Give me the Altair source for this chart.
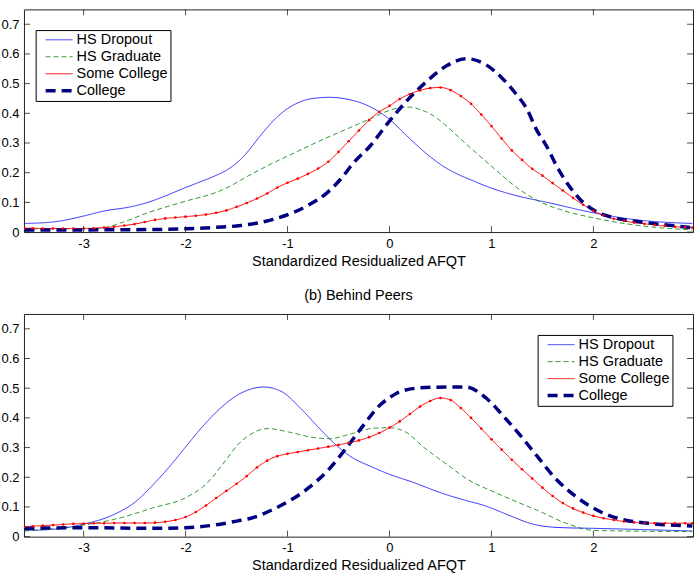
import altair as alt
import pandas as pd

# ---- series definitions -------------------------------------------------
SERIES = ["HS Dropout", "HS Graduate", "Some College", "College"]
COLORS = ["#0000ff", "#008000", "#ff0000", "#000080"]
DASHES = [[1, 0], [5, 3], [1, 0], [10, 6]]
WIDTHS = [0.8, 0.8, 1.0, 3.5]

X_TICKS = [-3, -2, -1, 0, 1, 2]
Y_TICKS = [0, 0.1, 0.2, 0.3, 0.4, 0.5, 0.6, 0.7]
X_DOMAIN = [-3.585, 2.977]
Y_DOMAIN = [0, 0.75]
X_TITLE = "Standardized Residualized AFQT"

# fine grid used for the marked "Some College" densities
grid_x = [-3.58, -3.5, -3.4, -3.3, -3.2, -3.1, -3.0, -2.9, -2.8, -2.7, -2.6,
          -2.5, -2.4, -2.3, -2.2, -2.1, -2.0, -1.9, -1.8, -1.7, -1.6, -1.5,
          -1.4, -1.3, -1.2, -1.1, -1.0, -0.9, -0.8, -0.7, -0.6, -0.5, -0.4,
          -0.3, -0.2, -0.1, 0.0, 0.1, 0.2, 0.3, 0.4, 0.5, 0.6, 0.7, 0.8,
          0.9, 1.0, 1.1, 1.2, 1.3, 1.4, 1.5, 1.6, 1.7, 1.8, 1.9, 2.0, 2.1,
          2.2, 2.3, 2.4, 2.5, 2.6, 2.7, 2.8, 2.9, 2.97]

# ---- upper panel --------------------------------------------------------
a_dropout_x = [-3.58, -3.3, -3.0, -2.8, -2.54, -2.37, -2.21, -2.05, -1.88,
               -1.72, -1.59, -1.46, -1.38, -1.30, -1.2, -1.1, -1.0, -0.9,
               -0.8, -0.7, -0.6, -0.42, -0.22, 0.0, 0.17, 0.37, 0.5, 0.6,
               0.7, 0.79, 1.0, 1.23, 1.56, 2.0, 2.38, 2.97]
a_dropout_y = [0.029, 0.034, 0.054, 0.071, 0.085, 0.100, 0.120, 0.143, 0.166,
               0.188, 0.210, 0.245, 0.275, 0.31, 0.352, 0.388, 0.416, 0.435,
               0.447, 0.452, 0.454, 0.448, 0.427, 0.38, 0.324, 0.262, 0.228,
               0.207, 0.19, 0.177, 0.148, 0.124, 0.099, 0.065, 0.043, 0.029]

a_grad_x = [-3.58, -3.0, -2.8, -2.6, -2.37, -2.0, -1.69, -1.55, -1.46, -1.3,
            -1.14, -1.0, -0.81, -0.6, -0.48, -0.3, -0.16, -0.1, 0.0, 0.1,
            0.2, 0.3, 0.43, 0.53, 0.63, 0.79, 1.0, 1.23, 1.43, 1.72, 2.0,
            2.38, 2.97]
a_grad_y = [0.011, 0.011, 0.015, 0.035, 0.065, 0.104, 0.135, 0.157, 0.175,
            0.205, 0.233, 0.256, 0.287, 0.32, 0.338, 0.365, 0.386, 0.396,
            0.410, 0.419, 0.421, 0.413, 0.392, 0.366, 0.335, 0.285, 0.222,
            0.155, 0.11, 0.071, 0.048, 0.025, 0.007]

a_some_y = [0.013, 0.013, 0.012, 0.012, 0.012, 0.012, 0.012, 0.013, 0.015,
            0.018, 0.022, 0.027, 0.034, 0.041, 0.046, 0.049, 0.052, 0.055,
            0.059, 0.065, 0.073, 0.085, 0.098, 0.113, 0.130, 0.150, 0.166,
            0.180, 0.196, 0.214, 0.237, 0.270, 0.306, 0.342, 0.377, 0.405,
            0.425, 0.448, 0.465, 0.477, 0.485, 0.487, 0.478, 0.458, 0.432,
            0.396, 0.357, 0.315, 0.275, 0.243, 0.213, 0.190, 0.165, 0.140,
            0.115, 0.092, 0.072, 0.056, 0.045, 0.038, 0.032, 0.028, 0.024,
            0.021, 0.018, 0.016, 0.015]

a_college_x = [-3.58, -2.5, -2.0, -1.7, -1.46, -1.14, -0.81, -0.61, -0.48,
               -0.35, -0.19, 0.0, 0.17, 0.37, 0.56, 0.75, 0.94, 1.10, 1.23,
               1.35, 1.44, 1.54, 1.64, 1.75, 1.87, 2.05, 2.21, 2.54, 2.97]
a_college_y = [0.007, 0.008, 0.011, 0.016, 0.022, 0.043, 0.088, 0.133, 0.178,
               0.234, 0.29, 0.374, 0.442, 0.509, 0.56, 0.584, 0.565, 0.52,
               0.47, 0.413, 0.346, 0.29, 0.222, 0.161, 0.11, 0.065, 0.048,
               0.031, 0.015]

# ---- lower panel: (b) Behind Peers ---------------------------------------
b_dropout_x = [-3.58, -3.29, -3.0, -2.70, -2.50, -2.31, -2.14, -2.0, -1.82,
               -1.66, -1.50, -1.36, -1.235, -1.1, -1.04, -0.88, -0.71, -0.55,
               -0.39, -0.16, 0.0, 0.24, 0.50, 0.79, 0.9, 1.0, 1.1, 1.23, 1.35,
               1.46, 1.6, 1.72, 2.0, 2.97]
b_dropout_y = [0.021, 0.025, 0.042, 0.075, 0.115, 0.178, 0.243, 0.302, 0.376,
               0.432, 0.475, 0.497, 0.504, 0.495, 0.485, 0.435, 0.373, 0.317,
               0.272, 0.233, 0.21, 0.182, 0.148, 0.118, 0.108, 0.096, 0.082,
               0.064, 0.048, 0.038, 0.032, 0.03, 0.028, 0.019]

b_grad_x = [-3.58, -3.0, -2.70, -2.31, -2.0, -1.79, -1.6, -1.5, -1.36, -1.2,
            -0.97, -0.75, -0.58, -0.39, -0.16, 0.0, 0.14, 0.34, 0.56, 0.79,
            1.0, 1.23, 1.46, 1.72, 2.0, 2.97]
b_grad_y = [0.019, 0.039, 0.058, 0.098, 0.131, 0.18, 0.26, 0.305, 0.345,
            0.364, 0.351, 0.334, 0.33, 0.345, 0.365, 0.367, 0.356, 0.3,
            0.244, 0.188, 0.154, 0.12, 0.087, 0.047, 0.021, 0.017]

b_some_y = [0.033, 0.035, 0.037, 0.039, 0.041, 0.043, 0.044, 0.045, 0.045,
            0.046, 0.046, 0.046, 0.046, 0.047, 0.050, 0.056, 0.066, 0.083,
            0.105, 0.130, 0.154, 0.178, 0.204, 0.233, 0.256, 0.271, 0.279,
            0.285, 0.291, 0.297, 0.303, 0.309, 0.316, 0.324, 0.335, 0.349,
            0.367, 0.388, 0.413, 0.438, 0.457, 0.467, 0.460, 0.433, 0.400,
            0.364, 0.328, 0.293, 0.259, 0.227, 0.196, 0.165, 0.137, 0.113,
            0.095, 0.081, 0.070, 0.062, 0.056, 0.051, 0.048, 0.046, 0.045,
            0.045, 0.045, 0.045, 0.045]

b_college_x = [-3.58, -3.0, -2.3, -2.0, -1.66, -1.46, -1.36, -1.14, -0.81,
               -0.61, -0.42, -0.26, -0.09, 0.0, 0.07, 0.15, 0.30, 0.56, 0.75,
               0.94, 1.13, 1.30, 1.46, 1.62, 1.82, 2.05, 2.28, 2.54, 2.97]
b_college_y = [0.028, 0.03, 0.028, 0.03, 0.042, 0.055, 0.062, 0.092, 0.16,
               0.221, 0.3, 0.373, 0.444, 0.468, 0.483, 0.493, 0.501, 0.504,
               0.504, 0.469, 0.401, 0.334, 0.266, 0.199, 0.137, 0.087, 0.058,
               0.045, 0.036]

FONT = "Liberation Sans, Arial, Helvetica, sans-serif"
W, H = 670, 223
TICK = 6


def long_table(pairs):
    rows = []
    for name, xs, ys in pairs:
        for xv, yv in zip(xs, ys):
            rows.append({"series": name, "x": xv, "y": yv})
    return pd.DataFrame(rows)


def panel(df, legend_x, legend_y, title=None):
    legend = alt.Legend(
        title=None, orient="none", legendX=legend_x, legendY=legend_y,
        symbolType="stroke", symbolSize=729, clipHeight=15.5, rowPadding=0,
        padding=2, symbolOffset=6, labelOffset=2,
        # two no-break spaces keep some room between the labels and the frame
        labelExpr="datum.label + '\u00a0\u00a0'",
        strokeColor="black", fillColor="white",
        labelFont=FONT, labelFontSize=14.5, labelColor="black",
    )
    x_enc = alt.X("x:Q", scale=alt.Scale(domain=X_DOMAIN, nice=False, zero=False),
                  axis=alt.Axis(values=X_TICKS, title=X_TITLE, labelExpr="'' + datum.value",
                                labelPadding=5, titlePadding=4))
    y_enc = alt.Y("y:Q", scale=alt.Scale(domain=Y_DOMAIN, nice=False, zero=True),
                  axis=alt.Axis(values=Y_TICKS, title=None, format=".1~f", labelPadding=5))

    lines = alt.Chart(df).mark_line(clip=True, interpolate="monotone").encode(
        x=x_enc, y=y_enc,
        color=alt.Color("series:N", scale=alt.Scale(domain=SERIES, range=COLORS), legend=legend),
        strokeDash=alt.StrokeDash("series:N", scale=alt.Scale(domain=SERIES, range=DASHES), legend=legend),
        strokeWidth=alt.StrokeWidth("series:N", scale=alt.Scale(type="ordinal", domain=SERIES, range=WIDTHS),
                                    legend=legend),
    )
    dots = alt.Chart(df).transform_filter(
        alt.datum.series == "Some College"
    ).mark_point(filled=True, size=7, color="#ff0000", opacity=1, clip=True).encode(x=x_enc, y=y_enc)

    xt = pd.DataFrame({"x": X_TICKS})
    yt = pd.DataFrame({"y": Y_TICKS})
    tick_style = dict(color="#222222", strokeWidth=0.8)
    bottom_ticks = alt.Chart(xt).mark_rule(**tick_style).encode(x=x_enc, y=alt.value(H), y2=alt.value(H - TICK))
    top_ticks = alt.Chart(xt).mark_rule(**tick_style).encode(x=x_enc, y=alt.value(0), y2=alt.value(TICK))
    left_ticks = alt.Chart(yt).mark_rule(**tick_style).encode(y=y_enc, x=alt.value(0), x2=alt.value(TICK))
    right_ticks = alt.Chart(yt).mark_rule(**tick_style).encode(y=y_enc, x=alt.value(W - TICK), x2=alt.value(W))

    props = dict(width=W, height=H)
    if title:
        props["title"] = alt.TitleParams(title, fontSize=14.5, font=FONT, fontWeight="normal",
                                         color="black", offset=10, anchor="middle")
    return alt.layer(lines, dots, bottom_ticks, top_ticks, left_ticks, right_ticks).properties(**props)


top_df = long_table([
    ("HS Dropout", a_dropout_x, a_dropout_y),
    ("HS Graduate", a_grad_x, a_grad_y),
    ("Some College", grid_x, a_some_y),
    ("College", a_college_x, a_college_y),
])
bottom_df = long_table([
    ("HS Dropout", b_dropout_x, b_dropout_y),
    ("HS Graduate", b_grad_x, b_grad_y),
    ("Some College", grid_x, b_some_y),
    ("College", b_college_x, b_college_y),
])

chart = alt.vconcat(
    panel(top_df, 11.7, 20.7),
    panel(bottom_df, 514.4, 21, title="(b) Behind Peers"),
    spacing=19,
).resolve_scale(
    color="independent", strokeDash="independent", strokeWidth="independent"
).resolve_legend(
    color="independent", strokeDash="independent", strokeWidth="independent"
).configure(
    padding={"left": 0, "top": 8, "right": 5, "bottom": 0},
    background="white",
).configure_view(
    stroke="#222222", strokeWidth=1
).configure_axis(
    domain=False, ticks=False, grid=False,
    labelFont=FONT, labelFontSize=13, labelColor="black",
    titleFont=FONT, titleFontSize=14.5, titleColor="black", titleFontWeight="normal",
)

chart.save("out.html", embed_options={"renderer": "svg", "actions": False})
